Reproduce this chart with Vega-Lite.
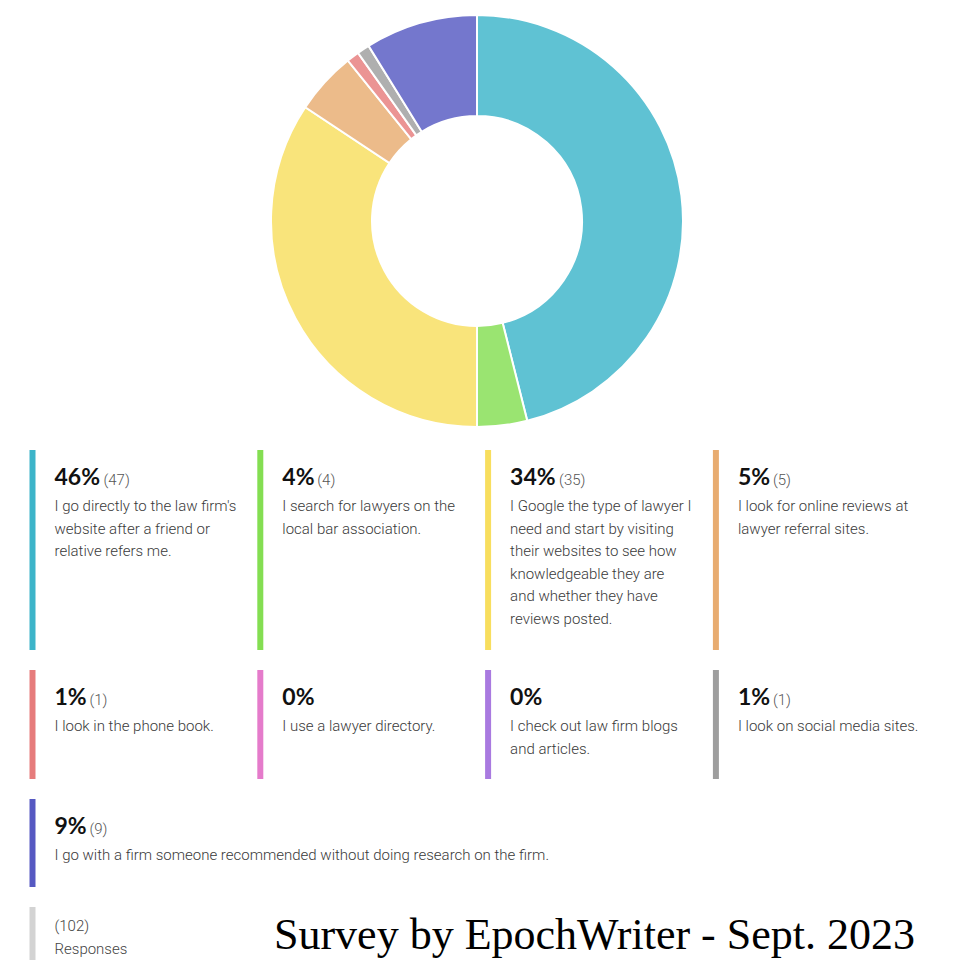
{
  "$schema": "https://vega.github.io/schema/vega-lite/v6.json",
  "padding": 0,
  "background": "white",
  "bounds": "flush",
  "spacing": 8,
  "config": {"view": {"stroke": null}},
  "datasets": {
    "answers": [
      {"ord": 1, "count": 47, "answer": "I go directly to the law firm's\nwebsite after a friend or\nrelative refers me."},
      {"ord": 2, "count": 4, "answer": "I search for lawyers on the\nlocal bar association."},
      {"ord": 3, "count": 35, "answer": "I Google the type of lawyer I\nneed and start by visiting\ntheir websites to see how\nknowledgeable they are\nand whether they have\nreviews posted."},
      {"ord": 4, "count": 5, "answer": "I look for online reviews at\nlawyer referral sites."},
      {"ord": 5, "count": 1, "answer": "I look in the phone book."},
      {"ord": 6, "count": 0, "answer": "I use a lawyer directory."},
      {"ord": 7, "count": 0, "answer": "I check out law firm blogs\nand articles."},
      {"ord": 8, "count": 1, "answer": "I look on social media sites."},
      {"ord": 9, "count": 9, "answer": "I go with a firm someone recommended without doing research on the firm."}
    ]
  },
  "data": {"name": "answers"},
  "transform": [
    {"joinaggregate": [{"op": "sum", "field": "count", "as": "total"}]},
    {"calculate": "(datum.ord - 1) % 4", "as": "col"},
    {"calculate": "floor((datum.ord - 1) / 4)", "as": "row"},
    {"calculate": "round(100 * datum.count / datum.total)", "as": "pct"},
    {"calculate": "datum.pct + '%'", "as": "pctLabel"},
    {"calculate": "'(' + datum.count + ')'", "as": "countLabel"},
    {"calculate": "datum.col + (datum.pct >= 10 ? 49 : 35) / 227.8", "as": "countPos"}
  ],
  "vconcat": [
    {
      "width": 954,
      "height": 442,
      "transform": [{"filter": "datum.count > 0"}],
      "mark": {"type": "arc", "innerRadius": 105, "outerRadius": 206, "stroke": "white", "strokeWidth": 2, "fillOpacity": 0.82},
      "encoding": {
        "theta": {"field": "count", "type": "quantitative", "stack": true},
        "order": {"field": "ord", "type": "quantitative", "sort": "ascending"},
        "color": {"field": "ord", "type": "ordinal", "legend": null,
          "scale": {"domain": [1,2,3,4,5,6,7,8,9], "range": ["#3CB4C9","#84DE52","#F8DE5E","#E8AC70","#E67C7C","#E57BCB","#A97AE0","#9E9E9E","#5659C2"]}}
      }
    },
    {
      "spacing": 20,
      "bounds": "flush",
      "vconcat": [
        {
          "width": 960,
          "height": 200,
          "transform": [{"filter": "datum.row == 0"}],
          "encoding": {
            "x": {"field": "col", "type": "quantitative", "axis": null, "scale": {"domain": [0, 4], "range": [32.5, 943.7]}}
          },
          "layer": [
            {"mark": {"type": "rule", "strokeWidth": 6, "strokeCap": "butt"},
             "encoding": {"color": {"field": "ord", "type": "ordinal", "legend": null,
               "scale": {"domain": [1,2,3,4,5,6,7,8,9], "range": ["#3CB4C9","#84DE52","#F8DE5E","#E8AC70","#E67C7C","#E57BCB","#A97AE0","#9E9E9E","#5659C2"]}}}},
            {"mark": {"type": "text", "align": "left", "baseline": "alphabetic", "dx": 22, "dy": -65, "font": "Lato", "fontWeight": "bold", "fontSize": 23, "color": "#111111"},
             "encoding": {"text": {"field": "pctLabel"}}},
            {"transform": [{"filter": "datum.count > 0"}],
             "mark": {"type": "text", "align": "left", "baseline": "alphabetic", "dx": 22, "dy": -65, "font": "Roboto", "fontWeight": 300, "fontSize": 15, "color": "#555555"},
             "encoding": {"x": {"field": "countPos", "type": "quantitative"}, "text": {"field": "countLabel"}}},
            {"mark": {"type": "text", "align": "left", "baseline": "alphabetic", "dx": 22, "dy": -39, "font": "Roboto", "fontWeight": 300, "fontSize": 15, "lineHeight": 22.6, "lineBreak": "\n", "color": "#3A3A3A"},
             "encoding": {"text": {"field": "answer"}}}
          ]
        },
        {
          "width": 960,
          "height": 109,
          "transform": [{"filter": "datum.row == 1"}],
          "encoding": {
            "x": {"field": "col", "type": "quantitative", "axis": null, "scale": {"domain": [0, 4], "range": [32.5, 943.7]}}
          },
          "layer": [
            {"mark": {"type": "rule", "strokeWidth": 6, "strokeCap": "butt"},
             "encoding": {"color": {"field": "ord", "type": "ordinal", "legend": null,
               "scale": {"domain": [1,2,3,4,5,6,7,8,9], "range": ["#3CB4C9","#84DE52","#F8DE5E","#E8AC70","#E67C7C","#E57BCB","#A97AE0","#9E9E9E","#5659C2"]}}}},
            {"mark": {"type": "text", "align": "left", "baseline": "alphabetic", "dx": 22, "dy": -19.5, "font": "Lato", "fontWeight": "bold", "fontSize": 23, "color": "#111111"},
             "encoding": {"text": {"field": "pctLabel"}}},
            {"transform": [{"filter": "datum.count > 0"}],
             "mark": {"type": "text", "align": "left", "baseline": "alphabetic", "dx": 22, "dy": -19.5, "font": "Roboto", "fontWeight": 300, "fontSize": 15, "color": "#555555"},
             "encoding": {"x": {"field": "countPos", "type": "quantitative"}, "text": {"field": "countLabel"}}},
            {"mark": {"type": "text", "align": "left", "baseline": "alphabetic", "dx": 22, "dy": 6.5, "font": "Roboto", "fontWeight": 300, "fontSize": 15, "lineHeight": 22.6, "lineBreak": "\n", "color": "#3A3A3A"},
             "encoding": {"text": {"field": "answer"}}}
          ]
        },
        {
          "width": 960,
          "height": 88,
          "transform": [{"filter": "datum.row == 2"}],
          "encoding": {
            "x": {"field": "col", "type": "quantitative", "axis": null, "scale": {"domain": [0, 4], "range": [32.5, 943.7]}}
          },
          "layer": [
            {"mark": {"type": "rule", "strokeWidth": 6, "strokeCap": "butt"},
             "encoding": {"color": {"field": "ord", "type": "ordinal", "legend": null,
               "scale": {"domain": [1,2,3,4,5,6,7,8,9], "range": ["#3CB4C9","#84DE52","#F8DE5E","#E8AC70","#E67C7C","#E57BCB","#A97AE0","#9E9E9E","#5659C2"]}}}},
            {"mark": {"type": "text", "align": "left", "baseline": "alphabetic", "dx": 22, "dy": -9, "font": "Lato", "fontWeight": "bold", "fontSize": 23, "color": "#111111"},
             "encoding": {"text": {"field": "pctLabel"}}},
            {"transform": [{"filter": "datum.count > 0"}],
             "mark": {"type": "text", "align": "left", "baseline": "alphabetic", "dx": 22, "dy": -9, "font": "Roboto", "fontWeight": 300, "fontSize": 15, "color": "#555555"},
             "encoding": {"x": {"field": "countPos", "type": "quantitative"}, "text": {"field": "countLabel"}}},
            {"mark": {"type": "text", "align": "left", "baseline": "alphabetic", "dx": 22, "dy": 17, "font": "Roboto", "fontWeight": 300, "fontSize": 15, "lineHeight": 22.6, "lineBreak": "\n", "color": "#3A3A3A"},
             "encoding": {"text": {"field": "answer"}}}
          ]
        },
        {
          "width": 960,
          "height": 53,
          "transform": [
            {"aggregate": [{"op": "sum", "field": "count", "as": "n"}]},
            {"calculate": "'(' + datum.n + ')'", "as": "nLabel"},
            {"calculate": "0", "as": "col"}
          ],
          "encoding": {
            "x": {"field": "col", "type": "quantitative", "axis": null, "scale": {"domain": [0, 4], "range": [32.5, 943.7]}}
          },
          "layer": [
            {"mark": {"type": "rule", "strokeWidth": 6, "strokeCap": "butt", "color": "#D3D3D3"}, "encoding": {}},
            {"mark": {"type": "text", "align": "left", "baseline": "alphabetic", "dx": 22, "dy": -2.5, "font": "Roboto", "fontWeight": 300, "fontSize": 15, "color": "#444444"},
             "encoding": {"text": {"field": "nLabel"}}},
            {"mark": {"type": "text", "align": "left", "baseline": "alphabetic", "dx": 22, "dy": 20, "font": "Roboto", "fontWeight": 300, "fontSize": 15, "color": "#444444", "text": "Responses"},
             "encoding": {}},
            {"mark": {"type": "text", "align": "right", "baseline": "alphabetic", "dx": 0, "dy": 15, "font": "Liberation Serif", "fontSize": 44, "color": "#000000", "text": "Survey by EpochWriter - Sept. 2023"},
             "encoding": {"x": {"datum": 3.874, "type": "quantitative"}}}
          ]
        }
      ]
    }
  ]
}
